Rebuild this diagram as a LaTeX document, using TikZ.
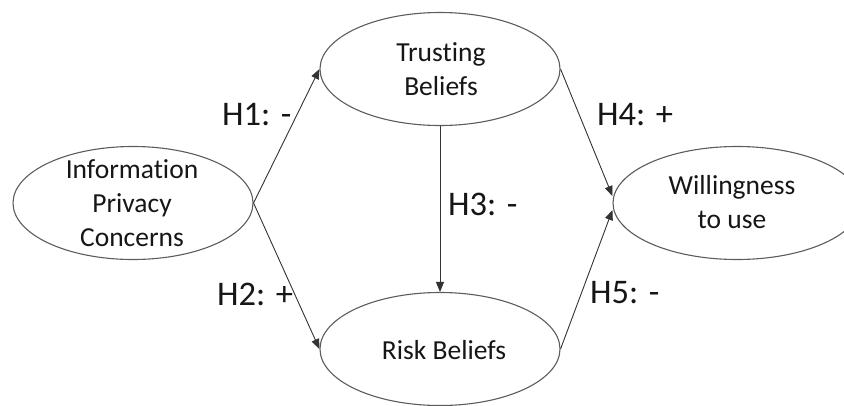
\documentclass[tikz,border=0pt]{standalone}
\usepackage{fontspec}
\setmainfont[Ligatures=NoCommon]{Carlito}
\usetikzlibrary{shapes.geometric,arrows.meta}
\definecolor{rim}{HTML}{5C5C5C}
\definecolor{wire}{HTML}{333333}
\definecolor{ink}{HTML}{161616}
\tikzset{
  construct/.style={draw=rim, line width=1.1pt, ellipse, inner sep=0pt,
                    minimum width=240pt, minimum height=113pt},
  nodetext/.style={align=center, text=ink, inner sep=0pt,
                   font=\fontsize{27.5}{34}\selectfont},
  hyp/.style={anchor=base west, text=ink, inner sep=0pt,
              font=\fontsize{34.5}{40}\selectfont},
  link/.style={draw=wire, line width=0.9pt,
               -{Triangle[length=10pt,width=8pt]}}
}
\begin{document}
\begin{tikzpicture}[x=1pt,y=-1pt]
\useasboundingbox (0,0) rectangle (844,405);

% constructs of the model
\node[construct] (ipc) at (133,203) {};
\node[construct] (tb)  at (440,69)  {};
\node[construct] (rb)  at (440,349) {};
\node[construct, minimum width=248pt] (wu) at (737,203) {};

\node[nodetext] (ipcT) at (132,203) {Information\\Privacy\\Concerns};
\node[nodetext] (tbT)  at (441,69)  {Trusting\\ Beliefs};
\node[nodetext] (rbT)  at (444,350) {Risk Beliefs};
\node[nodetext] (wuT)  at (732,202) {Willingness\\to use};

% hypothesised paths
\draw[link] (ipc.east) -- (tb.west);
\draw[link] (ipc.east) -- (rb.west);
\draw[link] (tb.south) -- (rb.north);
\draw[link] (tb.east) -- ([yshift=7pt]wu.west);
\draw[link] (rb.east) -- ([yshift=-7pt]wu.west);

% path labels
\node[hyp] (h1) at (222,125) {H1: -};
\node[hyp] (h2) at (217,305) {H2: +};
\node[hyp] (h3) at (448,215) {H3: -};
\node[hyp] (h4) at (597,125) {H4: +};
\node[hyp] (h5) at (590,303) {H5: -};
\end{tikzpicture}
\end{document}
